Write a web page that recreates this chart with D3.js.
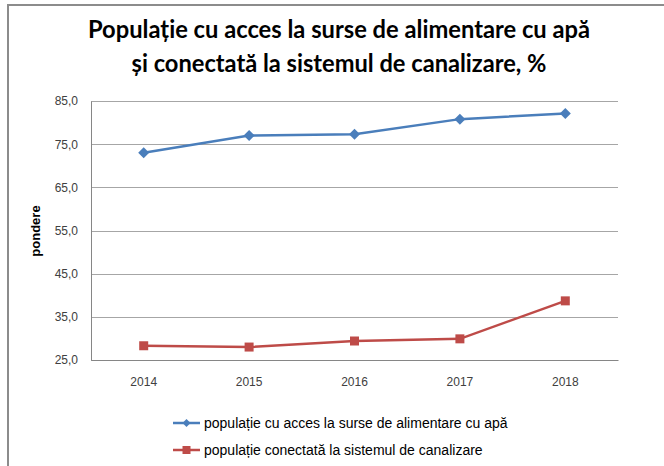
<!DOCTYPE html>
<html>
<head>
<meta charset="utf-8">
<script src="https://cdn.jsdelivr.net/npm/d3@7"></script>
<style>
  body { margin: 0; background: #fff; }
  .tick text { font-family: "Liberation Sans", Arial, sans-serif; font-size: 12px; fill: #404040; }
</style>
</head>
<body>
<svg class="chart" width="664" height="466"></svg>
<script>
var years = ["2014", "2015", "2016", "2017", "2018"];
var apa = [73.0, 77.0, 77.3, 80.8, 82.1];
var canalizare = [28.3, 28.0, 29.4, 29.9, 38.7];
var yTicks = [25, 35, 45, 55, 65, 75, 85];
var titleLines = ["Populație cu acces la surse de alimentare cu apă", "și conectată la sistemul de canalizare, %"];
var seriesNames = ["populație cu acces la surse de alimentare cu apă", "populație conectată la sistemul de canalizare"];

(function() {
  var margin = {top: 101, right: 46, bottom: 106, left: 91};

  var svg = d3.select(".chart"),
      svgWidth = +svg.attr("width"),
      svgHeight = +svg.attr("height"),
      width = svgWidth - margin.left - margin.right,
      height = svgHeight - margin.top - margin.bottom;

  // outer frame (only left and top visible in the crop)
  svg.append("path")
    .attr("d", "M8,466V5H664")
    .attr("fill", "none")
    .attr("stroke", "#8c8c8c")
    .attr("stroke-width", 2);

  // title
  svg.selectAll("text.title")
    .data(titleLines)
    .enter().append("text")
    .attr("class", "title")
    .attr("x", 339)
    .attr("y", function(d, i) { return 38 + i * 34; })
    .attr("text-anchor", "middle")
    .attr("textLength", function(d, i) { return i === 0 ? 502 : 415; })
    .attr("lengthAdjust", "spacingAndGlyphs")
    .style("font-family", "Lato, 'Open Sans', sans-serif")
    .style("font-weight", "bold")
    .style("font-size", "25px")
    .style("fill", "#000")
    .text(function(d) { return d; });

  var chart = svg.append("g")
    .attr("transform", "translate(" + margin.left + "," + margin.top + ")");

  var xScale = d3.scaleBand()
    .domain(years)
    .range([0, width]);

  var yScale = d3.scaleLinear()
    .domain([25, 85])
    .range([height, 0]);

  // gridlines
  chart.append("g")
    .selectAll("line")
    .data(yTicks)
    .enter().append("line")
    .attr("x1", 0)
    .attr("x2", width)
    .attr("y1", function(d) { return Math.round(yScale(d)) + 0.5; })
    .attr("y2", function(d) { return Math.round(yScale(d)) + 0.5; })
    .attr("stroke", "#a6a6a6")
    .attr("stroke-width", 1);

  // y axis
  var yAxis = d3.axisLeft(yScale)
    .tickValues(yTicks)
    .tickSize(0)
    .tickPadding(13)
    .tickFormat(function(d) { return d3.format(".1f")(d).replace(".", ","); });

  var gy = chart.append("g").call(yAxis);
  gy.select(".domain").attr("stroke", "#868686");

  // x axis
  var xAxis = d3.axisBottom(xScale).tickSize(0).tickPadding(17);
  var gx = chart.append("g")
    .attr("transform", "translate(0," + height + ")")
    .call(xAxis);
  gx.select(".domain").attr("stroke", "#868686");

  // y axis title
  svg.append("text")
    .attr("transform", "translate(40,231) rotate(-90)")
    .attr("text-anchor", "middle")
    .style("font-family", "'Liberation Sans', Arial, sans-serif")
    .style("font-weight", "bold")
    .style("font-size", "13px")
    .text("pondere");

  var cx = function(d, i) { return xScale(years[i]) + xScale.bandwidth() / 2; };
  var line = d3.line()
    .x(function(d, i) { return cx(d, i); })
    .y(function(d) { return yScale(d); });

  // rhombus marker, as wide as it is tall
  function diamond(r) {
    return "M0," + (-r) + "L" + r + ",0L0," + r + "L" + (-r) + ",0Z";
  }
  function square(r) {
    return "M" + (-r) + "," + (-r) + "H" + r + "V" + r + "H" + (-r) + "Z";
  }

  var series = [
    {values: apa, color: "#4a7ebb", marker: diamond, r: 5.5, lr: 4},
    {values: canalizare, color: "#be4b48", marker: square, r: 4.5, lr: 4}
  ];

  series.forEach(function(s) {
    chart.append("path")
      .datum(s.values)
      .attr("d", line)
      .attr("fill", "none")
      .attr("stroke", s.color)
      .attr("stroke-width", 2.5);

    chart.selectAll(null)
      .data(s.values)
      .enter().append("path")
      .attr("transform", function(d, i) { return "translate(" + cx(d, i) + "," + yScale(d) + ")"; })
      .attr("d", s.marker(s.r))
      .attr("fill", s.color);
  });

  // legend
  var legend = svg.selectAll("g.legend")
    .data(series)
    .enter().append("g")
    .attr("class", "legend")
    .attr("transform", function(d, i) { return "translate(173," + (423 + i * 27) + ")"; });

  legend.append("line")
    .attr("x1", 0).attr("x2", 27)
    .attr("stroke", function(d) { return d.color; })
    .attr("stroke-width", 2.5);

  legend.append("path")
    .attr("transform", "translate(13.5,0)")
    .attr("d", function(d) { return d.marker(d.lr); })
    .attr("fill", function(d) { return d.color; });

  legend.append("text")
    .attr("x", 31)
    .attr("dy", "0.35em")
    .style("font-family", "'Liberation Sans', Arial, sans-serif")
    .style("font-size", "14px")
    .style("fill", "#000")
    .text(function(d, i) { return seriesNames[i]; });
})();
</script>
</body>
</html>
